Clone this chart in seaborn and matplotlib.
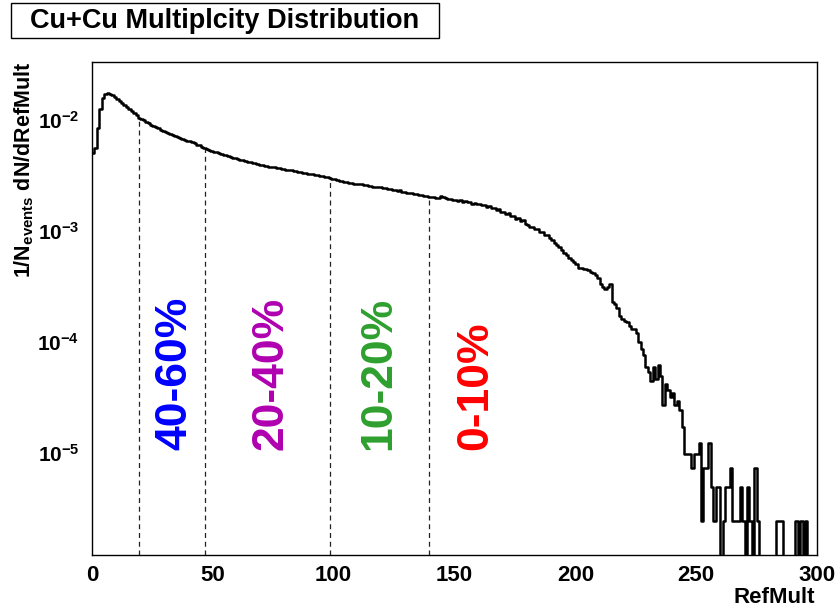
import numpy as np
import pandas as pd
import matplotlib
matplotlib.use("Agg")
import matplotlib.pyplot as plt
import seaborn as sns
from matplotlib.patches import Rectangle
from matplotlib.ticker import MultipleLocator, LogLocator, NullFormatter

# ---------------- data ----------------
TITLE = "Cu+Cu Multiplcity Distribution"
X_LABEL = "RefMult"
Y_LABEL = r"1/N$_{events}$ dN/dRefMult"

REFMULT_MIN = 0
REFMULT_MAX = 300
N_EVENTS = 408000  # one entry per bin corresponds to ~2.45e-6

# entries per RefMult bin (width 1), bins 0..299
counts_000 = [2040, 2285, 3470, 5140, 6450, 6980, 7100, 7020, 6815, 6530]
counts_010 = [6285, 6040, 5795, 5550, 5345, 5140, 4935, 4735, 4530, 4285]
counts_020 = [4160, 4040, 3915, 3795, 3690, 3590, 3510, 3425, 3325, 3245]
counts_030 = [3180, 3100, 3040, 2980, 2915, 2855, 2795, 2735, 2695, 2650]
counts_040 = [2610, 2570, 2510, 2450, 2405, 2345, 2285, 2245, 2205, 2160]
counts_050 = [2120, 2100, 2060, 2020, 1980, 1960, 1925, 1895, 1870, 1835]
counts_060 = [1815, 1795, 1775, 1755, 1720, 1695, 1675, 1655, 1630, 1615]
counts_070 = [1600, 1585, 1565, 1550, 1540, 1525, 1510, 1495, 1475, 1460]
counts_080 = [1450, 1435, 1430, 1415, 1405, 1390, 1380, 1365, 1355, 1340]
counts_090 = [1330, 1320, 1305, 1295, 1280, 1270, 1255, 1245, 1225, 1210]
counts_100 = [1190, 1180, 1160, 1155, 1135, 1130, 1110, 1108, 1090, 1090]
counts_110 = [1070, 1075, 1055, 1058, 1040, 1040, 1025, 1025, 1005, 1008]
counts_120 = [990, 990, 975, 975, 960, 960, 940, 945, 920, 920]
counts_130 = [905, 890, 890, 870, 875, 855, 860, 840, 840, 826]
counts_140 = [830, 825, 815, 810, 848, 822, 808, 792, 788, 776]
counts_150 = [778, 762, 770, 750, 755, 740, 740, 720, 726, 710]
counts_160 = [710, 695, 695, 675, 680, 660, 660, 635, 640, 610]
counts_170 = [610, 585, 590, 560, 560, 525, 535, 500, 510, 470]
counts_180 = [465, 445, 445, 425, 425, 400, 400, 375, 375, 350]
counts_190 = [340, 320, 305, 290, 275, 260, 250, 235, 225, 215]
counts_200 = [205, 190, 188, 186, 184, 180, 173, 170, 163, 155]
counts_210 = [135, 127, 122, 127, 135, 94, 90, 82, 70, 65]
counts_220 = [63, 61, 57, 53, 53, 49, 41, 35, 31, 24]
counts_230 = [22, 18, 24, 19, 25, 20, 11, 17, 15, 13]
counts_240 = [14, 11, 12, 10, 7, 4, 4, 4, 3, 4]
counts_250 = [4, 5, 1, 3, 3, 5, 2, 1, 2, 2]
counts_260 = [0, 1, 2, 2, 3, 1, 1, 1, 2, 1]
counts_270 = [0, 2, 1, 0, 3, 1, 0, 0, 0, 0]
counts_280 = [0, 0, 0, 1, 1, 1, 0, 0, 0, 0]
counts_290 = [0, 1, 0, 1, 0, 1, 0, 0, 0, 0]

# centrality cuts and their labels
cut_refmult = [19.4, 46.6, 98.4, 139.3]
class_labels = ["40-60%", "20-40%", "10-20%", "0-10%"]
class_label_x = [34.3, 74.0, 118.7, 158.9]
class_label_y = 1.06e-5
class_colors = ["#0000ff", "#b000b0", "#2ea02e", "#ff0000"]

x_ticks = [0, 50, 100, 150, 200, 250, 300]
y_ticks = [1e-5, 1e-4, 1e-3, 1e-2]
y_tick_labels = [r"$10^{-5}$", r"$10^{-4}$", r"$10^{-3}$", r"$10^{-2}$"]
y_min, y_max = 1.2e-6, 3.33e-2

# ---------------- build table ----------------
counts = (counts_000 + counts_010 + counts_020 + counts_030 + counts_040 +
          counts_050 + counts_060 + counts_070 + counts_080 + counts_090 +
          counts_100 + counts_110 + counts_120 + counts_130 + counts_140 +
          counts_150 + counts_160 + counts_170 + counts_180 + counts_190 +
          counts_200 + counts_210 + counts_220 + counts_230 + counts_240 +
          counts_250 + counts_260 + counts_270 + counts_280 + counts_290)
n_bins = len(counts)
df = pd.DataFrame({
    "RefMult": np.arange(REFMULT_MIN, REFMULT_MAX) + 0.5,
    "density": np.array(counts, dtype=float) / N_EVENTS,
})

# ---------------- style ----------------
sns.set_style("white")
plt.rcParams["font.family"] = ["Liberation Sans", "DejaVu Sans"]
plt.rcParams["font.weight"] = "bold"
plt.rcParams["text.color"] = "black"
plt.rcParams["axes.labelcolor"] = "black"
plt.rcParams["xtick.color"] = "black"
plt.rcParams["ytick.color"] = "black"
plt.rcParams["mathtext.fontset"] = "custom"
plt.rcParams["mathtext.rm"] = "Liberation Sans:bold"
plt.rcParams["mathtext.bf"] = "Liberation Sans:bold"
plt.rcParams["mathtext.it"] = "Liberation Sans:bold:italic"
plt.rcParams["mathtext.sf"] = "Liberation Sans:bold"
plt.rcParams["mathtext.default"] = "bf"

fig = plt.figure(figsize=(8.38, 6.08), dpi=100)
fig.patch.set_facecolor("white")
ax = fig.add_axes([92 / 838, 1 - 555 / 608, 725 / 838, 493 / 608])

sns.histplot(data=df, x="RefMult", weights="density", bins=n_bins,
             binrange=(REFMULT_MIN, REFMULT_MAX), element="step", fill=False,
             color="black", linewidth=1.8, ax=ax)

ax.set_yscale("log")
ax.set_xlim(REFMULT_MIN, REFMULT_MAX)
ax.set_ylim(y_min, y_max)

# dashed centrality boundaries up to the histogram
dens = df["density"].to_numpy()
for cut in cut_refmult:
    top = dens[int(cut)]
    ax.vlines(cut, y_min, top, colors="#222222", linestyles=(0, (4, 3)),
              linewidth=0.9, zorder=1)

for lab, xx, col in zip(class_labels, class_label_x, class_colors):
    ax.text(xx, class_label_y, lab, rotation=90, ha="center", va="bottom",
            fontsize=32, fontweight="bold", color=col)

# axes, ticks
ax.set_xticks(x_ticks)
ax.set_xticklabels([str(t) for t in x_ticks])
ax.xaxis.set_minor_locator(MultipleLocator(10))
ax.set_yticks(y_ticks)
ax.set_yticklabels(y_tick_labels)
ax.yaxis.set_minor_locator(LogLocator(base=10, subs=np.arange(2, 10)))
ax.yaxis.set_minor_formatter(NullFormatter())

ax.tick_params(axis="both", which="both", direction="in", top=False,
               right=False, colors="black", width=0.9)
ax.tick_params(axis="x", which="major", length=12, pad=7, labelsize=16)
ax.tick_params(axis="x", which="minor", length=6)
ax.tick_params(axis="y", which="major", length=14.4, pad=9, labelsize=15)
ax.tick_params(axis="y", which="minor", length=7.2)
for lab in ax.get_xticklabels() + ax.get_yticklabels():
    lab.set_fontweight("bold")
    lab.set_color("black")

for sp in ax.spines.values():
    sp.set_visible(True)
    sp.set_color("black")
    sp.set_linewidth(1.0)

ax.set_xlabel(X_LABEL, fontsize=16, fontweight="bold", loc="right",
              color="black")
ax.xaxis.set_label_coords(0.997, -0.064)
ax.set_ylabel(Y_LABEL, fontsize=15.5, fontweight="bold", loc="top",
              color="black")
ax.yaxis.set_label_coords(-0.077, 1.0)
ax.grid(False)

# title box
fig.add_artist(Rectangle((11 / 838, 1 - 38 / 608), 428 / 838, 35 / 608,
                         transform=fig.transFigure, fill=True, fc="white",
                         ec="black", lw=1.0))
fig.text(225 / 838, 1 - 21 / 608, TITLE, ha="center", va="center",
         fontsize=19.5, fontweight="bold", color="black")

fig.savefig("out.png", dpi=100)
